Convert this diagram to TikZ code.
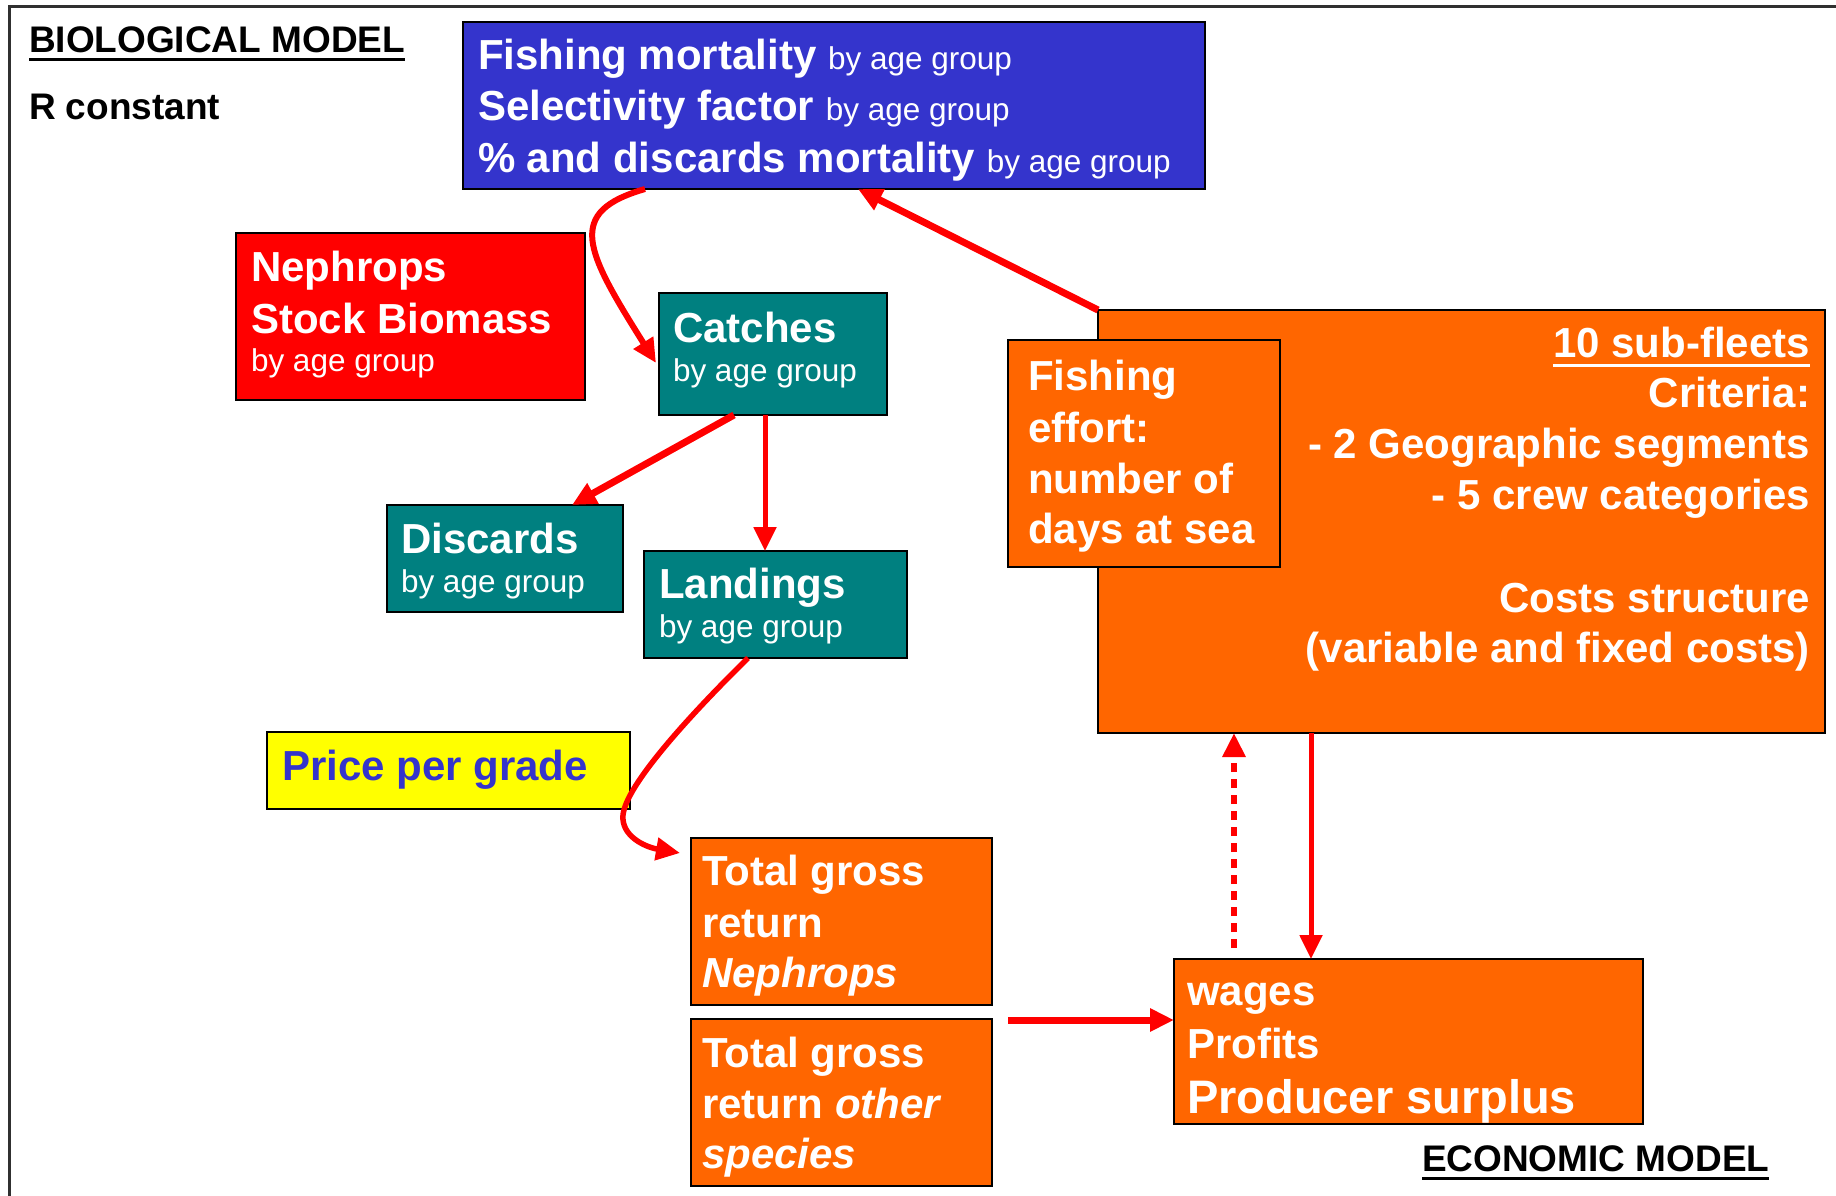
\documentclass[tikz,border=0pt]{standalone}
\usepackage{fontspec}
\setmainfont{Liberation Sans}
\usetikzlibrary{arrows.meta,calc}
\definecolor{bluebox}{HTML}{3434CC}
\definecolor{tealbox}{HTML}{008080}
\definecolor{orangebox}{HTML}{FF6600}
\definecolor{redbox}{HTML}{FF0000}
\definecolor{yellowbox}{HTML}{FFFF00}
\definecolor{arrowred}{HTML}{FF0000}
\definecolor{frameclr}{HTML}{303030}
\newcommand\bigtxt{\fontsize{42}{50}\selectfont\bfseries}
\newcommand\smtxt{\fontsize{31.5}{38}\selectfont\mdseries}
\newcommand\hdtxt{\fontsize{37}{44}\selectfont\bfseries}
\tikzset{
  box/.style={draw=black, line width=2.5pt, anchor=north west, inner sep=0pt, outer sep=0pt},
  ln/.style={anchor=base west, inner sep=0pt, outer sep=0pt, text=white, font=\bigtxt},
  lnr/.style={anchor=base east, inner sep=0pt, outer sep=0pt, text=white, font=\bigtxt},
  hd/.style={anchor=base west, inner sep=0pt, outer sep=0pt, text=black, font=\hdtxt},
  arr/.style={draw=arrowred, -{Triangle[length=24pt,width=22pt]}},
}
\begin{document}
\begin{tikzpicture}[x=1pt,y=-1pt]
\useasboundingbox (0,0) rectangle (1836,1196);
\clip (0,0) rectangle (1836,1196);
\fill[white] (0,0) rectangle (1836,1196);
\draw[draw=frameclr, line width=3pt] (9,7) rectangle (1900,1300);

% headings
\node[hd] (bio) at (29,53) {BIOLOGICAL MODEL};
\draw[line width=3pt] ($(bio.base west)+(0,7)$) -- ($(bio.base east)+(0,7)$);
\node[hd] (rconst) at (29,120) {R constant};
\node[hd] (eco) at (1422,1171) {ECONOMIC MODEL};
\draw[line width=3pt] ($(eco.base west)+(0,7)$) -- ($(eco.base east)+(0,7)$);

% boxes
\node[box, fill=bluebox, minimum width=742pt, minimum height=167pt] (blue) at (463,22) {};
\node[box, fill=redbox, minimum width=349pt, minimum height=167pt] (stock) at (236,233) {};
\node[box, fill=tealbox, minimum width=228pt, minimum height=122pt] (catches) at (659,293) {};
\node[box, fill=tealbox, minimum width=236pt, minimum height=107pt] (discards) at (387,505) {};
\node[box, fill=tealbox, minimum width=263pt, minimum height=107pt] (landings) at (644,551) {};
\node[box, fill=yellowbox, minimum width=363pt, minimum height=77pt] (price) at (267,732) {};
\node[box, fill=orangebox, minimum width=727pt, minimum height=423pt] (fleet) at (1098,310) {};
\node[box, fill=orangebox, minimum width=272pt, minimum height=227pt] (effort) at (1008,340) {};
\node[box, fill=orangebox, minimum width=301pt, minimum height=167pt] (tgrn) at (691,838) {};
\node[box, fill=orangebox, minimum width=301pt, minimum height=167pt] (tgro) at (691,1019) {};
\node[box, fill=orangebox, minimum width=469pt, minimum height=165pt] (wages) at (1174,959) {};

% blue box text
\node[ln] (b1) at (478,70) {Fishing mortality {\smtxt by age group}};
\node[ln] (b2) at (478,121) {Selectivity factor {\smtxt by age group}};
\node[ln] (b3) at (478,172) {\% and discards mortality {\smtxt by age group}};

% stock
\node[ln] (s1) at (251,281) {Nephrops};
\node[ln] (s2) at (251,333) {Stock Biomass};
\node[ln, font=\smtxt] (s3) at (251,371) {by age group};

% catches, discards, landings
\node[ln] (c1) at (673,342) {Catches};
\node[ln, font=\smtxt] (c2) at (673,381) {by age group};
\node[ln] (d1) at (401,553) {Discards};
\node[ln, font=\smtxt] (d2) at (401,592) {by age group};
\node[ln] (l1) at (659,598) {Landings};
\node[ln, font=\smtxt] (l2) at (659,637) {by age group};

% price
\node[ln, text=bluebox] (p1) at (282,780) {Price per grade};

% fleet box
\node[lnr] (f1) at (1810,357) {10 sub-fleets};
\draw[white, line width=3pt] ($(f1.base west)+(0,8)$) -- ($(f1.base east)+(0,8)$);
\node[lnr] (f2) at (1810,407) {Criteria:};
\node[lnr] (f3) at (1810,458) {- 2 Geographic segments};
\node[lnr] (f4) at (1810,509) {- 5 crew categories};
\node[lnr] (f5) at (1810,612) {Costs structure};
\node[lnr] (f6) at (1810,662) {(variable and fixed costs)};

% effort
\node[ln] (e1) at (1028,390) {Fishing};
\node[ln] (e2) at (1028,442) {effort:};
\node[ln] (e3) at (1028,493) {number of};
\node[ln] (e4) at (1028,543) {days at sea};

% total gross returns
\node[ln] (n1) at (702,885) {Total gross};
\node[ln] (n2) at (702,937) {return};
\node[ln] (n3) at (702,987) {\itshape Nephrops};
\node[ln] (o1) at (702,1067) {Total gross};
\node[ln] (o2) at (702,1118) {return \textit{other}};
\node[ln] (o3) at (702,1168) {\itshape species};

% wages
\node[ln] (w1) at (1187,1005) {wages};
\node[ln] (w2) at (1187,1058) {Profits};
\node[ln, font=\fontsize{47}{56}\selectfont\bfseries] (w3) at (1187,1113) {Producer surplus};

% arrows
\draw[arr, line width=6pt] ($(blue.south west)+(182,0)$) .. controls (565,212) and (585,250) .. ($(catches.west)+(-3,9)$);
\draw[arr, line width=7pt] ($(catches.south west)+(75,0)$) -- ($(discards.north west)+(185,0)$);
\draw[arr, line width=5pt] ($(catches.south west)+(106,0)$) -- ($(landings.north west)+(121,0)$);
\draw[arr, line width=5.5pt] ($(landings.south west)+(104,0)$) .. controls (690,715) and (626,785) .. (623,815) .. controls (621,836) and (645,847) .. ($(tgrn.north west)+(-11,15)$);
\draw[arr, line width=7pt] (fleet.north west) -- ($(blue.south west)+(395,0)$);
\draw[arr, line width=6pt, dash pattern=on 9pt off 7pt] ($(wages.north west)+(60,-11)$) -- ($(fleet.south west)+(136,0)$);
\draw[arr, line width=5pt] ($(fleet.south west)+(213,0)$) -- ($(wages.north west)+(137,0)$);
\draw[arr, line width=7pt] ($(tgrn.south east)+(16,15)$) -- ($(wages.north west)+(0,61)$);
\end{tikzpicture}
\end{document}
